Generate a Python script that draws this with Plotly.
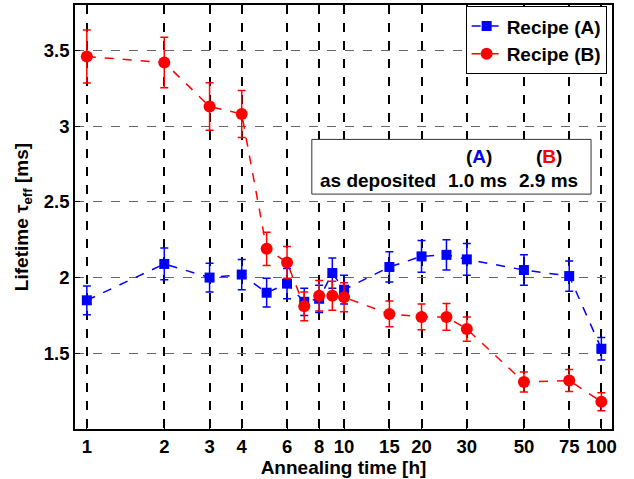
import plotly.graph_objects as go

hours = [1, 2, 3, 4, 5, 6, 7, 8, 9, 10, 15, 20, 25, 30, 50, 75, 100]
recipe_a = [1.85, 2.09, 2.00, 2.02, 1.90, 1.96, 1.84, 1.86, 2.03, 1.92, 2.07, 2.14, 2.15, 2.12, 2.05, 2.01, 1.53]
recipe_a_err = [0.095, 0.105, 0.095, 0.10, 0.095, 0.10, 0.09, 0.09, 0.10, 0.095, 0.10, 0.105, 0.10, 0.105, 0.10, 0.10, 0.075]
recipe_b = [3.46, 3.42, 3.13, 3.08, 2.19, 2.10, 1.81, 1.88, 1.88, 1.87, 1.76, 1.74, 1.74, 1.66, 1.31, 1.32, 1.18]
recipe_b_err = [0.175, 0.167, 0.157, 0.155, 0.11, 0.105, 0.095, 0.10, 0.095, 0.095, 0.085, 0.085, 0.088, 0.08, 0.066, 0.073, 0.06]
x_ticks = [1, 2, 3, 4, 6, 8, 10, 15, 20, 30, 50, 75, 100]
y_ticks = [1.5, 2, 2.5, 3, 3.5]
as_deposited = {"A": "1.0 ms", "B": "2.9 ms"}

FONT = "Liberation Sans"
BLUE = "#0000ff"
RED = "#ff0000"
SZ = 19
TICK_SZ = 18.5

def bfont(size=SZ, color="black"):
    return dict(family=FONT, size=size, color=color, weight="bold")

fig = go.Figure()
fig.add_trace(go.Scatter(
    x=hours, y=recipe_a, name="Recipe (A)", mode="lines+markers",
    line=dict(color=BLUE, dash="dash", width=1.5),
    marker=dict(symbol="square", size=10, color=BLUE),
    error_y=dict(type="data", array=recipe_a_err, color=BLUE, thickness=1.5, width=4),
))
fig.add_trace(go.Scatter(
    x=hours, y=recipe_b, name="Recipe (B)", mode="lines+markers",
    line=dict(color=RED, dash="dash", width=1.5),
    marker=dict(symbol="circle", size=12, color=RED),
    error_y=dict(type="data", array=recipe_b_err, color=RED, thickness=1.5, width=4),
))

fig.add_shape(type="rect", xref="paper", yref="paper", x0=0.441, x1=0.961, y0=0.554, y1=0.683,
              line=dict(color="#333333", width=1), fillcolor="white", layer="above")
ann = [
    (0.565, 0.587, "as deposited"),
    (0.749, 0.587, as_deposited["A"]),
    (0.881, 0.587, as_deposited["B"]),
    (0.752, 0.642, "(<span style='color:#0000ff'>A</span>)"),
    (0.883, 0.642, "(<span style='color:#ff0000'>B</span>)"),
]
for ax_, ay_, t in ann:
    fig.add_annotation(xref="paper", yref="paper", x=ax_, y=ay_, text=t,
                       xanchor="center", yanchor="middle",
                       showarrow=False, font=bfont())

fig.update_layout(
    width=634, height=479,
    margin=dict(l=75, r=22, t=5, b=50),
    paper_bgcolor="white", plot_bgcolor="white",
    font=bfont(),
    legend=dict(x=0.99, y=0.997, xanchor="right", yanchor="top",
                bgcolor="white", bordercolor="black", borderwidth=1,
                font=bfont(SZ),
                tracegroupgap=0, itemwidth=30),
    showlegend=True,
)
fig.update_xaxes(
    type="log", range=[-0.046, 2.0414], automargin=False,
    tickvals=x_ticks, ticktext=["%g" % v for v in x_ticks],
    showgrid=True, gridcolor="black", griddash="dash", gridwidth=1.5,
    showline=True, linecolor="black", linewidth=1.5, mirror=True,
    ticks="inside", ticklen=5, tickcolor="black",
    title=dict(text="Annealing time [h]", font=bfont(), standoff=2),
    tickfont=bfont(TICK_SZ), zeroline=False,
)
fig.update_yaxes(
    range=[1.0, 3.8], automargin=False,
    tickvals=y_ticks, ticktext=["%g" % v for v in y_ticks],
    showgrid=True, gridcolor="#666666", griddash="dash", gridwidth=1,
    showline=True, linecolor="black", linewidth=1.5, mirror=True,
    ticks="inside", ticklen=5, tickcolor="black",
    title=dict(text="Lifetime τ<sub>eff</sub> [ms]", font=bfont(), standoff=10),
    tickfont=bfont(TICK_SZ), zeroline=False,
)

fig.write_html("out.html", config={"displayModeBar": False},
               post_script="document.body.style.margin='0';document.body.style.padding='0';")
